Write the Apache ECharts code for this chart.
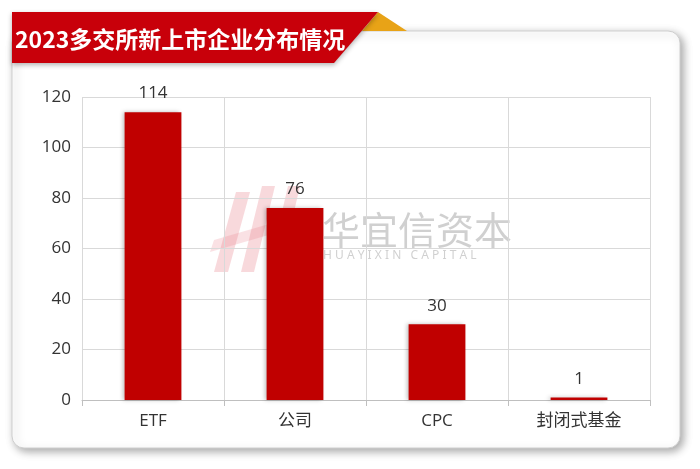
<!DOCTYPE html>
<html><head><meta charset="utf-8">
<script src="https://cdn.jsdelivr.net/npm/echarts@6/dist/echarts.min.js"></script>
<style>html,body{margin:0;padding:0;background:#fff}#c{width:700px;height:469px}</style>
</head><body><div id="c"></div>
<script>
const categories = ['ETF', '公司', 'CPC', '封闭式基金'];
const values = [114, 76, 30, 1];
const yTicks = [0, 20, 40, 60, 80, 100, 120];
const title = '2023多交所新上市企业分布情况';

const chart = echarts.init(document.getElementById('c'), null, {renderer: 'canvas'});
chart.setOption({
  animation: false,
  backgroundColor: '#fff',
  grid: {left: 82, right: 50, top: 97, bottom: 69, containLabel: false},
  xAxis: {
    type: 'category', data: categories,
    axisLine: {show: true, lineStyle: {color: '#bfbfbf'}},
    axisTick: {show: true, length: 6, lineStyle: {color: '#bfbfbf'}},
    splitLine: {show: true, lineStyle: {color: '#d9d9d9'}},
    axisLabel: {color: '#333', fontSize: 17, margin: 13, fontFamily: 'Open Sans, Noto Sans CJK SC'}
  },
  yAxis: {
    type: 'value', min: yTicks[0], max: yTicks[yTicks.length - 1], interval: 20,
    axisLine: {show: false}, axisTick: {show: false},
    splitLine: {lineStyle: {color: '#d9d9d9'}},
    axisLabel: {color: '#333', fontSize: 17, margin: 11, fontFamily: 'Open Sans'}
  },
  series: [{
    type: 'bar', data: values, barWidth: '40%', z: 5,
    itemStyle: {color: '#C00000', shadowColor: 'rgba(0,0,0,0.25)', shadowBlur: 4, shadowOffsetX: -2},
    label: {show: true, position: 'top', color: '#333', fontSize: 17, distance: 10, fontFamily: 'Open Sans'}
  }],
  graphic: [
    {type: 'rect', z: -10, silent: true, shape: {x: 12, y: 31, width: 668, height: 417, r: 12},
     style: {fill: '#fff', stroke: '#cfcfcf', lineWidth: 1, shadowColor: 'rgba(0,0,0,0.35)', shadowBlur: 8, shadowOffsetX: 3, shadowOffsetY: 3}},
    // watermark logo
    {type: 'group', z: 1, silent: true, children: [
      {type: 'polygon', shape: {points: [[236,192],[250,192],[228,272],[214,272]]}, style: {fill: 'rgba(230,120,130,0.28)'}},
      {type: 'polygon', shape: {points: [[262,186],[275,186],[254,272],[241,272]]}, style: {fill: 'rgba(230,120,130,0.28)'}},
      {type: 'polygon', shape: {points: [[288,186],[300,186],[280,272],[268,272]]}, style: {fill: 'rgba(230,120,130,0.28)'}},
      {type: 'polygon', shape: {points: [[214,240],[300,215],[296,227],[210,252]]}, style: {fill: 'rgba(230,120,130,0.22)'}},
      {type: 'text', style: {x: 322, y: 230, text: '华宜信资本', fill: 'rgba(150,150,150,0.45)', font: '38px "Noto Sans CJK SC"', textVerticalAlign: 'middle'}},
      {type: 'text', style: {x: 323, y: 256, text: 'H U A Y I X I N   C A P I T A L', fill: 'rgba(150,150,150,0.45)', font: '12px "Noto Sans"', textVerticalAlign: 'middle'}}
    ]},
    // banner
    {type: 'polygon', z: 20, silent: true, shape: {points: [[378,12],[407,31],[362,31]]}, style: {fill: '#E8A317'}},
    {type: 'polygon', z: 21, silent: true, shape: {points: [[12,12],[378,12],[334,63],[12,63]]},
     style: {fill: '#C8000A', shadowColor: 'rgba(0,0,0,0.3)', shadowBlur: 5, shadowOffsetY: 2}},
    {type: 'text', z: 22, silent: true, style: {x: 15, y: 39, text: title, fill: '#fff', font: 'bold 23px "Noto Sans CJK SC"', textVerticalAlign: 'middle'}}
  ]
});
</script></body></html>
